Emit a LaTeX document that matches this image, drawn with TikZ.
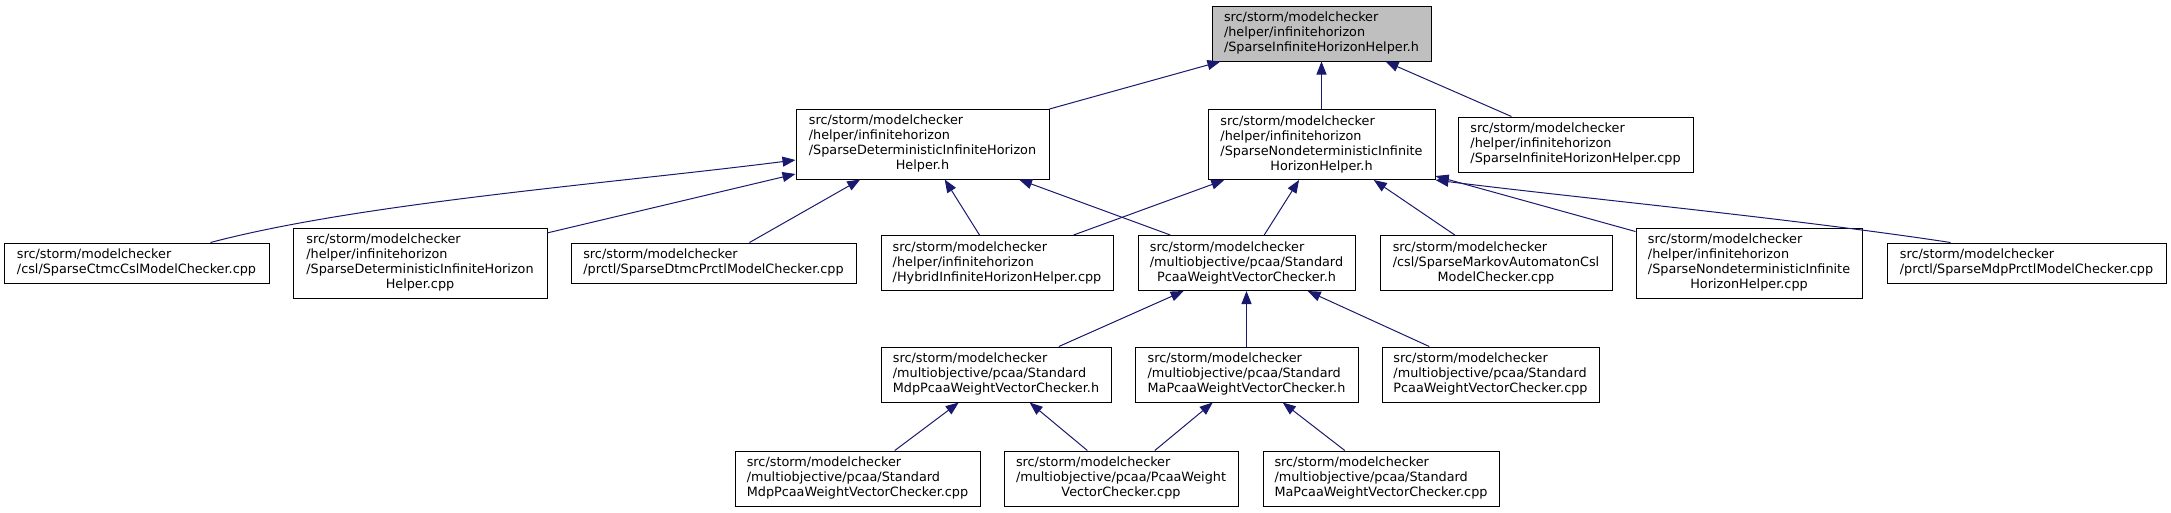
\documentclass[tikz,border=0pt]{standalone}
\usepackage{fontspec}
\setmainfont{DejaVu Sans}
\usetikzlibrary{arrows.meta}
\definecolor{edgeblue}{HTML}{191970}
\definecolor{rootgrey}{HTML}{BFBFBF}
\newcommand{\fpath}[1]{\begin{tabular}{@{}l@{}}#1\end{tabular}}
\newcommand{\lastln}[1]{\multicolumn{1}{@{}c@{}}{#1}}
\tikzset{
  file/.style={draw=black, line width=1pt, fill=white, inner sep=0pt,
    font=\fontsize{12.8}{15}\selectfont},
  focus/.style={file, fill=rootgrey},
  two/.style={minimum height=40pt},
  three/.style={minimum height=55pt},
  four/.style={minimum height=70pt},
  dep/.style={draw=edgeblue, line width=1pt, -{Triangle[length=13pt,width=10pt]}},
}
\begin{document}
\begin{tikzpicture}[x=1pt, y=-1pt]
  \useasboundingbox (0,0) rectangle (2171,512);
  % header under inspection
  \node[focus, three, minimum width=219pt] (sihh) at (1321.5,33.5)
    {\fpath{src/storm/modelchecker\\/helper/infinitehorizon\\\lastln{/SparseInfiniteHorizonHelper.h}}};
  % rank 1
  \node[file, four, minimum width=253pt] (sdihh) at (922.5,144)
    {\fpath{src/storm/modelchecker\\/helper/infinitehorizon\\/SparseDeterministicInfiniteHorizon\\\lastln{Helper.h}}};
  \node[file, four, minimum width=227pt] (snihh) at (1321.5,144.5)
    {\fpath{src/storm/modelchecker\\/helper/infinitehorizon\\/SparseNondeterministicInfinite\\\lastln{HorizonHelper.h}}};
  \node[file, three, minimum width=235pt] (sihcpp) at (1575.5,144.5)
    {\fpath{src/storm/modelchecker\\/helper/infinitehorizon\\\lastln{/SparseInfiniteHorizonHelper.cpp}}};
  % rank 2
  \node[file, two, minimum width=265pt] (sctmc) at (136.5,263)
    {\fpath{src/storm/modelchecker\\\lastln{/csl/SparseCtmcCslModelChecker.cpp}}};
  \node[file, four, minimum width=254pt] (sdihcpp) at (420,263)
    {\fpath{src/storm/modelchecker\\/helper/infinitehorizon\\/SparseDeterministicInfiniteHorizon\\\lastln{Helper.cpp}}};
  \node[file, two, minimum width=285pt] (sdtmc) at (713.5,263)
    {\fpath{src/storm/modelchecker\\\lastln{/prctl/SparseDtmcPrctlModelChecker.cpp}}};
  \node[file, three, minimum width=232pt] (hybrid) at (997,263)
    {\fpath{src/storm/modelchecker\\/helper/infinitehorizon\\\lastln{/HybridInfiniteHorizonHelper.cpp}}};
  \node[file, three, minimum width=217pt] (stdpcaah) at (1246.5,263)
    {\fpath{src/storm/modelchecker\\/multiobjective/pcaa/Standard\\\lastln{PcaaWeightVectorChecker.h}}};
  \node[file, three, minimum width=232pt] (smacsl) at (1496,263)
    {\fpath{src/storm/modelchecker\\/csl/SparseMarkovAutomatonCsl\\\lastln{ModelChecker.cpp}}};
  \node[file, four, minimum width=226pt] (snihcpp) at (1749,263)
    {\fpath{src/storm/modelchecker\\/helper/infinitehorizon\\/SparseNondeterministicInfinite\\\lastln{HorizonHelper.cpp}}};
  \node[file, two, minimum width=279pt] (smdp) at (2026.5,263)
    {\fpath{src/storm/modelchecker\\\lastln{/prctl/SparseMdpPrctlModelChecker.cpp}}};
  % rank 3
  \node[file, three, minimum width=230pt] (mdph) at (996,374.5)
    {\fpath{src/storm/modelchecker\\/multiobjective/pcaa/Standard\\\lastln{MdpPcaaWeightVectorChecker.h}}};
  \node[file, three, minimum width=223pt] (mah) at (1246.5,374.5)
    {\fpath{src/storm/modelchecker\\/multiobjective/pcaa/Standard\\\lastln{MaPcaaWeightVectorChecker.h}}};
  \node[file, three, minimum width=217pt] (stdpcaacpp) at (1490.5,374.5)
    {\fpath{src/storm/modelchecker\\/multiobjective/pcaa/Standard\\\lastln{PcaaWeightVectorChecker.cpp}}};
  % rank 4
  \node[file, three, minimum width=245pt] (mdpcpp) at (857.5,478.5)
    {\fpath{src/storm/modelchecker\\/multiobjective/pcaa/Standard\\\lastln{MdpPcaaWeightVectorChecker.cpp}}};
  \node[file, three, minimum width=234pt] (pcaacpp) at (1121,478.5)
    {\fpath{src/storm/modelchecker\\/multiobjective/pcaa/PcaaWeight\\\lastln{VectorChecker.cpp}}};
  \node[file, three, minimum width=236pt] (macpp) at (1381,478.5)
    {\fpath{src/storm/modelchecker\\/multiobjective/pcaa/Standard\\\lastln{MaPcaaWeightVectorChecker.cpp}}};
  % includes, pointing at the included file
  \draw[dep] (sdihh) -- (sihh);
  \draw[dep] (snihh) -- (sihh);
  \draw[dep] (sihcpp) -- (sihh);
  \draw[dep] ([xshift=74pt]sctmc.north) .. controls (360,203) and (606,184) .. ([yshift=-16pt]sdihh.west);
  \draw[dep] (sdihcpp) -- (sdihh);
  \draw[dep] (sdtmc) -- (sdihh);
  \draw[dep] (hybrid) -- (sdihh);
  \draw[dep] (stdpcaah) -- (sdihh);
  \draw[dep] (hybrid) -- (snihh);
  \draw[dep] (stdpcaah) -- (snihh);
  \draw[dep] (smacsl) -- (snihh);
  \draw[dep] (snihcpp) -- (snihh);
  \draw[dep] ([xshift=-76pt]smdp.north) .. controls (1790,218) and (1560,196) .. (snihh.south east);
  \draw[dep] (mdph) -- (stdpcaah);
  \draw[dep] (mah) -- (stdpcaah);
  \draw[dep] (stdpcaacpp) -- (stdpcaah);
  \draw[dep] (mdpcpp) -- (mdph);
  \draw[dep] (pcaacpp) -- (mdph);
  \draw[dep] (pcaacpp) -- (mah);
  \draw[dep] (macpp) -- (mah);
\end{tikzpicture}
\end{document}
